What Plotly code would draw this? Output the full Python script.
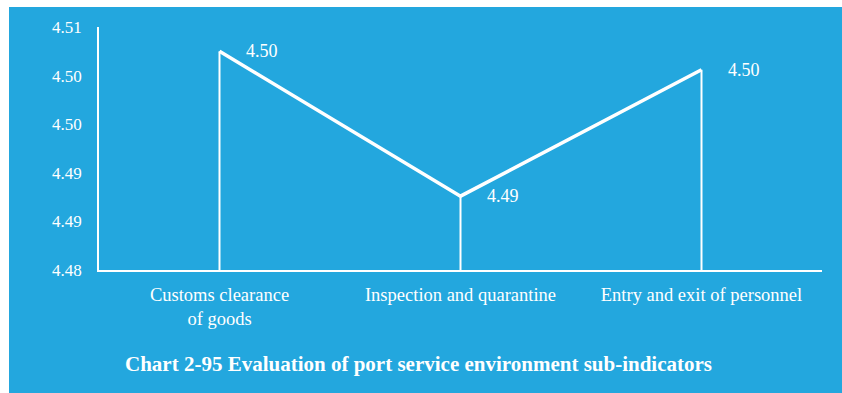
import plotly.graph_objects as go

# Sub-indicator scores
categories = ["Customs clearance<br>of goods", "Inspection and quarantine", "Entry and exit of personnel"]
scores = [4.5025, 4.4876, 4.5006]

# Y axis ticks (values rounded to two decimals for display)
tick_values = [4.48, 4.485, 4.49, 4.495, 4.50, 4.505]
tick_labels = ["4.48", "4.49", "4.49", "4.50", "4.50", "4.51"]

title_text = "Chart 2-95 Evaluation of port service environment sub-indicators"

BLUE = "#23A7DE"
WHITE = "#FFFFFF"
SERIF = "Liberation Serif, Times New Roman, serif"
Y_MIN, Y_MAX = 4.48, 4.505

W, H = 842, 393
L, R, T, B = 99, 20, 27, 123

fig = go.Figure()

# Main line with drop lines to the category axis (via one-sided error bars)
fig.add_trace(go.Scatter(
    x=categories,
    y=scores,
    mode="lines",
    line=dict(color=WHITE, width=3.5),
    error_y=dict(
        type="data",
        symmetric=False,
        array=[0] * len(scores),
        arrayminus=[s - Y_MIN for s in scores],
        color=WHITE,
        thickness=2,
        width=0,
    ),
    hoverinfo="skip",
    showlegend=False,
))

# Value labels to the right of each point
for c, s in zip(categories, scores):
    fig.add_annotation(
        x=c, y=s, text=f"{s:.2f}", showarrow=False,
        xanchor="left", yanchor="middle", xshift=24, yshift=0,
        font=dict(family=SERIF, size=18, color=WHITE),
    )

# Chart caption
fig.add_annotation(
    x=(418 - L) / (W - L - R), y=-(364 - (H - B)) / (H - T - B),
    xref="paper", yref="paper", text=f"<b>{title_text}</b>",
    showarrow=False, xanchor="center", yanchor="middle",
    font=dict(family=SERIF, size=21, color=WHITE),
)

# Blue panel with white strips on the top and left edges
pw, ph = W - L - R, H - T - B
fig.add_shape(
    type="rect", xref="paper", yref="paper", layer="below",
    x0=(9 - L) / pw, x1=(W - L) / pw,
    y0=-(H - (H - B)) / ph - 0.01, y1=(H - B - 7) / ph,
    fillcolor=BLUE, line=dict(width=0),
)

fig.update_layout(
    width=W, height=H,
    margin=dict(l=L, r=R, t=T, b=B),
    paper_bgcolor=WHITE,
    plot_bgcolor=BLUE,
    font=dict(family=SERIF, color=WHITE),
    xaxis=dict(
        type="category",
        range=[-0.5, 2.5],
        showgrid=False, zeroline=False,
        showline=True, linecolor=WHITE, linewidth=2,
        ticks="", ticklabelstandoff=7,
        tickfont=dict(family=SERIF, size=18.5, color=WHITE),
    ),
    yaxis=dict(
        range=[Y_MIN, Y_MAX],
        tickvals=tick_values, ticktext=tick_labels,
        showgrid=False, zeroline=False,
        showline=True, linecolor=WHITE, linewidth=1.5,
        ticks="", ticklabelstandoff=12,
        tickfont=dict(family=SERIF, size=17, color=WHITE),
    ),
)

fig.write_html("out.html")
